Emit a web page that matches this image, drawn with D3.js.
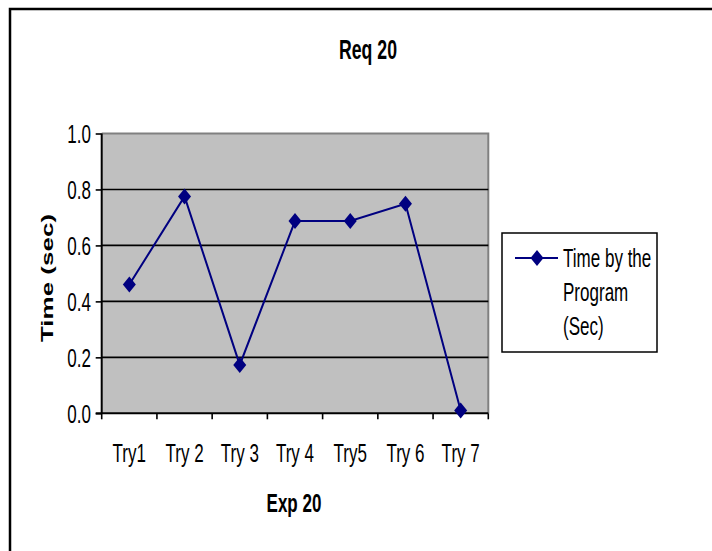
<!DOCTYPE html>
<html><head><meta charset="utf-8">
<script src="https://cdn.jsdelivr.net/npm/d3@7"></script>
<style>body{margin:0;background:#fff}svg{display:block}text{font-family:"Liberation Sans",Arial,sans-serif}</style>
</head><body>
<svg id="c" width="712" height="551"></svg>
<script>
const categories = ["Try1","Try 2","Try 3","Try 4","Try5","Try 6","Try 7"];
const values = [0.46, 0.775, 0.173, 0.687, 0.687, 0.749, 0.01];
const yTicks = [0, 0.2, 0.4, 0.6, 0.8, 1.0];
const seriesName = ["Time by the","Program","(Sec)"];
const titleText = "Req 20";
const xTitle = "Exp 20";
const yTitle = "Time (sec)";

const SX = 0.655;
const svg = d3.select("#c");
const L = 101.7, R = 488.3, T = 133.5, B = 413.3;
const x = d3.scaleBand().domain(categories).range([L, R]).padding(0);
const y = d3.scaleLinear().domain([0, 1]).range([B, T]);
const navy = "#000080";

// outer frame (only top & left visible)
svg.append("rect").attr("x",10).attr("y",9).attr("width",760).attr("height",600)
  .attr("fill","none").attr("stroke","#000").attr("stroke-width",2.5);

// plot area
svg.append("rect").attr("x",L).attr("y",T).attr("width",R-L).attr("height",B-T).attr("fill","#c0c0c0");
svg.append("path").attr("d",`M${L},${T}H${R}V${B}`).attr("fill","none").attr("stroke","#808080").attr("stroke-width",2);

// gridlines
svg.append("g").selectAll("line").data(yTicks.filter(d=>d>0&&d<1)).join("line")
  .attr("x1",L).attr("x2",R).attr("y1",d=>y(d)).attr("y2",d=>y(d))
  .attr("stroke","#000").attr("stroke-width",1.6);

function stext(g, tx, ty, str, opts={}) {
  const gg = g.append("g").attr("transform",`translate(${tx},${ty}) scale(${SX},1)${opts.rot?` rotate(${opts.rot})`:""}`);
  return gg.append("text").attr("text-anchor",opts.anchor||"middle")
    .attr("font-size",opts.size||26).attr("font-weight",opts.bold?"bold":"normal")
    .attr("fill","#000").text(str);
}

// y axis
const ya = svg.append("g").attr("transform",`translate(${L},0)`)
  .call(d3.axisLeft(y).tickValues(yTicks).tickSize(6).tickFormat(""));
ya.select(".domain").attr("stroke","#000").attr("stroke-width",2).attr("d",`M0,${T}V${B}`);
ya.selectAll(".tick line").attr("stroke","#000").attr("stroke-width",1.6);
yTicks.forEach(v => stext(svg, 91, y(v)+9.5, d3.format(".1f")(v), {anchor:"end"}));

// x axis
const bounds = categories.map(c=>x(c)).concat([x(categories[categories.length-1])+x.bandwidth()]);
svg.append("line").attr("x1",L-6).attr("x2",R).attr("y1",B).attr("y2",B).attr("stroke","#000").attr("stroke-width",2);
svg.append("g").selectAll("line").data(bounds).join("line")
  .attr("x1",d=>d).attr("x2",d=>d).attr("y1",B).attr("y2",B+6).attr("stroke","#000").attr("stroke-width",1.6);
categories.forEach(c => stext(svg, x(c)+x.bandwidth()/2, 462, c));

// series
const cx = d => x(d)+x.bandwidth()/2;
svg.append("path").datum(values)
  .attr("d", d3.line().x((d,i)=>cx(categories[i])).y(d=>y(d)))
  .attr("fill","none").attr("stroke",navy).attr("stroke-width",2);
const diamond = "M0,-8L6.5,0L0,8L-6.5,0Z";
svg.append("g").selectAll("path").data(values).join("path")
  .attr("transform",(d,i)=>`translate(${cx(categories[i])},${y(d)})`)
  .attr("d",diamond).attr("fill",navy);

// titles
stext(svg, 368, 59, titleText, {bold:true, size:27});
stext(svg, 294, 512, xTitle, {bold:true, size:26});
stext(svg, 53, 278, yTitle, {bold:true, size:26, rot:-90});

// legend
svg.append("rect").attr("x",502).attr("y",233).attr("width",155).attr("height",119)
  .attr("fill","#fff").attr("stroke","#000").attr("stroke-width",1.5);
svg.append("line").attr("x1",515).attr("x2",558).attr("y1",258).attr("y2",258).attr("stroke",navy).attr("stroke-width",2);
svg.append("path").attr("transform","translate(537,258)").attr("d",diamond).attr("fill",navy);
seriesName.forEach((s,i) => stext(svg, 563, 267 + i*34, s, {anchor:"start"}));
</script>
</body></html>
